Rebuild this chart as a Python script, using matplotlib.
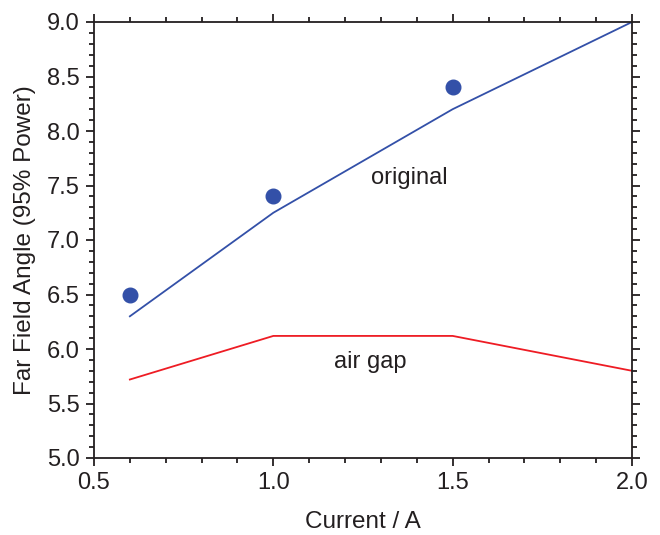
import matplotlib
matplotlib.use("Agg")
import matplotlib.pyplot as plt
from matplotlib.ticker import MultipleLocator, FormatStrFormatter

plt.rcParams['font.family'] = ['Liberation Sans', 'DejaVu Sans']

current = [0.6, 1.0, 1.5, 2.0]
original_fit = [6.30, 7.25, 8.20, 9.00]
airgap_fit = [5.72, 6.12, 6.12, 5.80]
meas_current = [0.6, 1.0, 1.5]
meas_original = [6.5, 7.4, 8.4]

fig = plt.figure(figsize=(6.6, 5.35), dpi=100)
ax = fig.add_axes([94/660, 1-458/535, (632-94)/660, (458-22)/535])

blue = '#3350a8'
red = '#ee1c24'
txt = '#231f20'
ax.plot(current, original_fit, color=blue, lw=1.3)
ax.plot(meas_current, meas_original, 'o', color=blue, ms=10.5, mec=blue)
ax.plot(current, airgap_fit, color=red, lw=1.3)

ax.text(1.378, 7.57, 'original', fontsize=17, ha='center', va='center', color=txt)
ax.text(1.27, 5.88, 'air gap', fontsize=17, ha='center', va='center', color=txt)

ax.set_xlim(0.5, 2.0)
ax.set_ylim(5.0, 9.0)
ax.xaxis.set_major_locator(MultipleLocator(0.5))
ax.xaxis.set_minor_locator(MultipleLocator(0.1))
ax.yaxis.set_major_locator(MultipleLocator(0.5))
ax.yaxis.set_minor_locator(MultipleLocator(0.1))
ax.xaxis.set_major_formatter(FormatStrFormatter('%.1f'))
ax.yaxis.set_major_formatter(FormatStrFormatter('%.1f'))
ax.tick_params(which='both', direction='out', top=True, right=True, width=1.3,
               colors=txt, labelsize=17, pad=4)
ax.tick_params(which='major', length=6)
ax.tick_params(which='minor', length=3.5)
for s in ax.spines.values():
    s.set_linewidth(1.3)
    s.set_color(txt)

ax.set_xlabel('Current / A', fontsize=17.5, color=txt, labelpad=12)
ax.set_ylabel('Far Field Angle (95% Power)', fontsize=17.5, color=txt, labelpad=8)

fig.savefig('out.png', dpi=100)
